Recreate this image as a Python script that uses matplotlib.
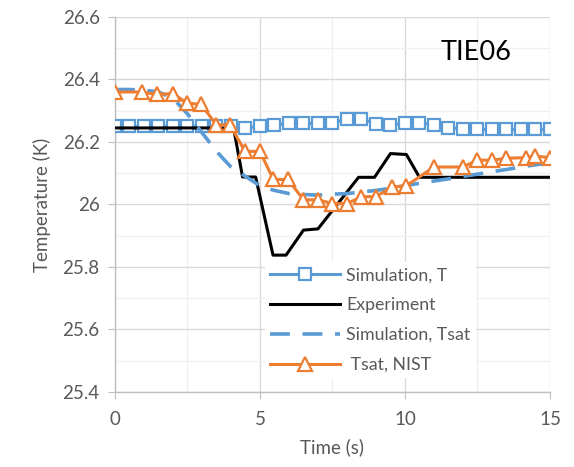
import matplotlib
matplotlib.use("Agg")
import matplotlib.pyplot as plt
from matplotlib.ticker import MultipleLocator, FuncFormatter

# Simulation, T (markers every 0.5 s)
t_sim = [0, 0.5, 1, 1.5, 2, 2.5, 3, 3.5, 4, 4.5, 5, 5.5, 6, 6.5, 7, 7.5,
         8, 8.5, 9, 9.5, 10, 10.5, 11, 11.5, 12, 12.5, 13, 13.5, 14, 14.5, 15]
T_sim = [26.25, 26.25, 26.25, 26.25, 26.25, 26.25, 26.25, 26.25, 26.25, 26.245,
         26.25, 26.255, 26.26, 26.26, 26.26, 26.26, 26.275, 26.275, 26.258, 26.255,
         26.26, 26.262, 26.255, 26.245, 26.243, 26.24, 26.24, 26.24, 26.24, 26.24, 26.24]

# Experiment
t_exp = [0, 3.5, 4.1, 4.4, 4.85, 5.45, 5.9, 6.5, 7.0, 8.4, 8.95, 9.5, 10.05, 10.5, 15]
T_exp = [26.245, 26.245, 26.24, 26.088, 26.088, 25.838, 25.838, 25.918, 25.922,
         26.087, 26.087, 26.163, 26.16, 26.087, 26.087]

# Simulation, Tsat
t_sat = t_sim
T_sat = [26.368, 26.368, 26.366, 26.36, 26.34, 26.29, 26.23, 26.17, 26.12, 26.09,
         26.06, 26.045, 26.035, 26.032, 26.03, 26.033, 26.035, 26.04, 26.045, 26.052,
         26.06, 26.068, 26.075, 26.082, 26.09, 26.097, 26.105, 26.112, 26.12, 26.127, 26.133]

# Tsat, NIST
t_nist = [0, 0.92, 1.45, 2.0, 2.48, 2.97, 3.5, 3.97, 4.48, 5.0, 5.46, 5.97, 6.5, 7.0,
          7.5, 8.0, 8.5, 9.0, 9.55, 10.05, 11.0, 12.0, 12.5, 13.0, 13.5, 14.17, 14.5, 15.0]
T_nist = [26.36, 26.36, 26.352, 26.355, 26.325, 26.32, 26.255, 26.255, 26.17, 26.17,
          26.08, 26.08, 26.015, 26.015, 26.003, 26.003, 26.025, 26.025, 26.056, 26.06,
          26.12, 26.12, 26.142, 26.142, 26.148, 26.15, 26.155, 26.15]

blue = '#5B9BD5'
orange = '#ED7D31'
gray_txt = '#595959'

plt.rcParams['font.family'] = ['Lato', 'DejaVu Sans']

fig = plt.figure(figsize=(5.74, 4.67), dpi=100)
ax = fig.add_axes([0.2003, 0.1606, 0.7578, 0.803])

ax.plot(t_sim, T_sim, color=blue, lw=2.2, marker='s', ms=8.5, mfc='white',
        mec=blue, mew=1.6, label='Simulation, T', zorder=3)
ax.plot(t_exp, T_exp, color='black', lw=2.2, label='Experiment', zorder=4)
ax.plot(t_sat, T_sat, color=blue, lw=2.6, ls=(0, (5.5, 3.5)),
        label='Simulation, Tsat', zorder=5)
ax.plot(t_nist, T_nist, color=orange, lw=2.2, marker='^', ms=9.5, mfc='white',
        mec=orange, mew=1.6, label=' Tsat, NIST', zorder=6)

ax.set_xlim(0, 15)
ax.set_ylim(25.4, 26.6)
ax.xaxis.set_major_locator(MultipleLocator(5))
ax.xaxis.set_minor_locator(MultipleLocator(2.5))
ax.yaxis.set_major_locator(MultipleLocator(0.2))
ax.yaxis.set_minor_locator(MultipleLocator(0.1))

ax.grid(which='major', color='#D9D9D9', lw=1.0, zorder=0)
ax.grid(which='minor', color='#F0F0F0', lw=1.0, zorder=0)
ax.set_axisbelow(True)

for s in ['top', 'right']:
    ax.spines[s].set_visible(False)
for s in ['left', 'bottom']:
    ax.spines[s].set_color('#BFBFBF')
    ax.spines[s].set_linewidth(1.0)

ax.tick_params(which='major', direction='out', length=5, color='#BFBFBF',
               labelcolor=gray_txt, labelsize=13.5)
ax.tick_params(axis='x', pad=9)
ax.tick_params(axis='y', pad=6)
ax.tick_params(which='minor', length=0)

ax.yaxis.set_major_formatter(FuncFormatter(
    lambda v, p: '26' if abs(v - 26) < 1e-6 else '%.1f' % v))

ax.set_xlabel('Time (s)', color=gray_txt, fontsize=13.5, labelpad=7)
ax.set_ylabel('Temperature (K)', color=gray_txt, fontsize=13.5, labelpad=8)

ax.text(0.831, 0.885, 'TIE06', transform=ax.transAxes, fontsize=19.5,
        color='black', ha='center', va='baseline')

leg = ax.legend(loc='upper left', bbox_to_anchor=(0.345, 0.347), frameon=True,
                fontsize=12.8, handlelength=3.9, labelspacing=0.78, borderpad=0.3,
                handletextpad=0.35, labelcolor=gray_txt, borderaxespad=0)
leg.get_frame().set_facecolor('white')
leg.get_frame().set_edgecolor('none')
leg.get_frame().set_alpha(1)
leg.set_zorder(10)

fig.savefig('out.png', dpi=100)
